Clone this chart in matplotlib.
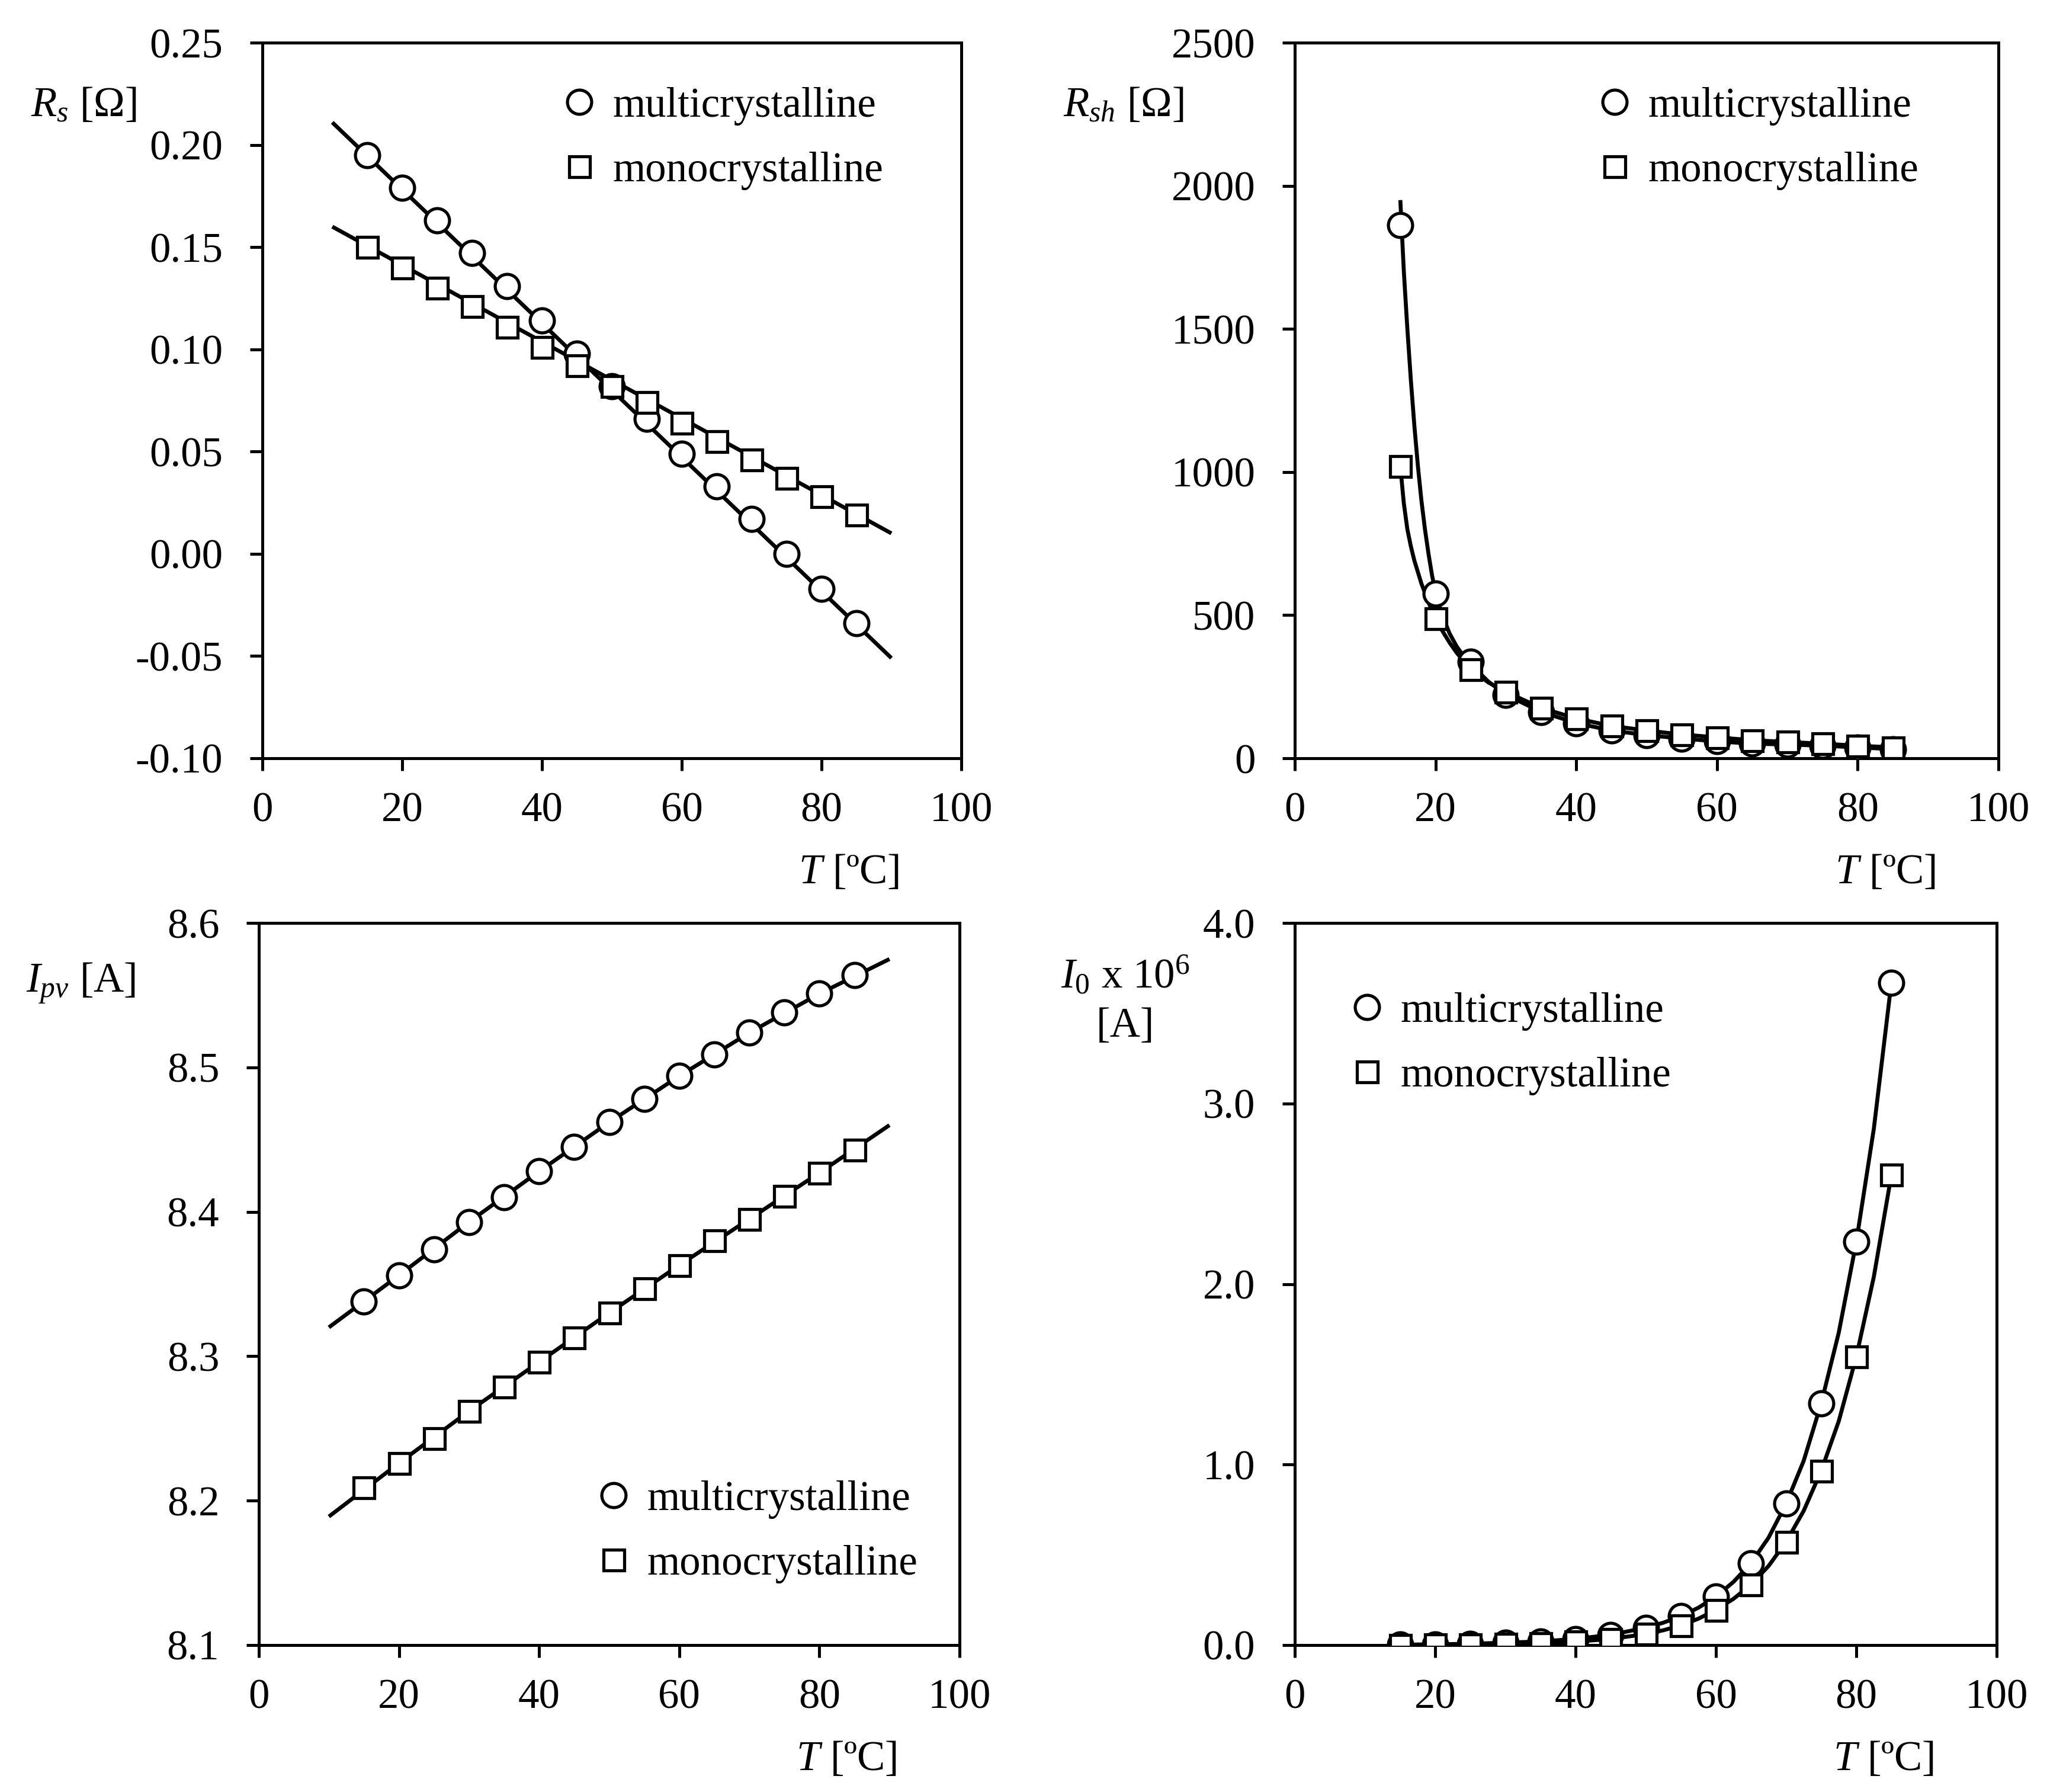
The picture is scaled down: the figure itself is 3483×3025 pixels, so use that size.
import numpy as np
import matplotlib
matplotlib.use("Agg")
import matplotlib.pyplot as plt

plt.rcParams.update({
    "font.family": "Liberation Serif",
    "font.size": 17,
    "mathtext.fontset": "custom",
    "mathtext.rm": "Liberation Serif",
    "mathtext.it": "Liberation Serif:italic",
    "axes.unicode_minus": False,
    "axes.linewidth": 1.2,
})

# measured temperatures
T = [15, 20, 25, 30, 35, 40, 45, 50, 55, 60, 65, 70, 75, 80, 85]

# series resistance Rs [ohm]
rs_multi = [0.195, 0.179, 0.163, 0.147, 0.131, 0.114, 0.098, 0.082, 0.066,
            0.049, 0.033, 0.017, 0.000, -0.017, -0.034]
rs_mono = [0.150, 0.140, 0.130, 0.121, 0.111, 0.101, 0.092, 0.082, 0.074,
           0.064, 0.055, 0.046, 0.037, 0.028, 0.019]
rs_fit_T = [10, 90]
rs_multi_fit = [0.211, -0.051]
rs_mono_fit = [0.160, 0.010]

# shunt resistance Rsh [ohm]
rsh_multi = [1862, 576, 337, 222, 162, 123, 97, 81, 69, 59, 51, 48, 44, 38, 32]
rsh_mono = [1020, 489, 311, 232, 176, 139, 113, 97, 83, 73, 63, 57, 51, 44, 38]
rsh_multi_fit_T = [15, 15.5, 16, 16.5, 17, 17.5, 18, 18.5, 19, 19.5, 20, 21, 22,
                   23, 24, 25, 27.5, 30, 35, 40, 45, 50, 55, 60, 65, 70, 75, 80, 85]
rsh_multi_fit = [1950, 1700, 1500, 1320, 1160, 1020, 900, 800, 715, 640, 580,
                 496, 436, 391, 356, 329, 268, 222, 162, 123, 97, 81, 69, 59,
                 51, 48, 44, 38, 32]
rsh_mono_fit_T = [15, 15.5, 16, 16.5, 17, 18, 19, 20, 21, 22, 23, 24, 25, 27.5,
                  30, 35, 40, 45, 50, 55, 60, 65, 70, 75, 80, 85]
rsh_mono_fit = [1020, 890, 800, 740, 690, 610, 545, 489, 444, 404, 369, 339,
                312, 265, 232, 176, 139, 113, 97, 83, 73, 63, 57, 51, 44, 38]

# photocurrent Ipv [A]
ipv_multi = [8.338, 8.356, 8.374, 8.393, 8.410, 8.428, 8.445, 8.462, 8.478,
             8.494, 8.509, 8.524, 8.538, 8.551, 8.564]
ipv_mono = [8.209, 8.226, 8.243, 8.262, 8.279, 8.296, 8.313, 8.330, 8.347,
            8.363, 8.380, 8.395, 8.411, 8.427, 8.443]
ipv_fit_T = [10, 20, 30, 40, 50, 60, 70, 80, 90]
ipv_multi_fit = [8.320, 8.356, 8.393, 8.428, 8.462, 8.494, 8.524, 8.551, 8.575]
ipv_mono_fit = [8.189, 8.226, 8.262, 8.296, 8.330, 8.363, 8.395, 8.427, 8.460]

# saturation current I0 x 1e6 [A]
i0_multi = [0.002, 0.004, 0.007, 0.012, 0.020, 0.034, 0.057, 0.096, 0.160,
            0.268, 0.454, 0.783, 1.339, 2.233, 3.670]
i0_mono = [0.001, 0.002, 0.0035, 0.006, 0.011, 0.019, 0.034, 0.061, 0.109,
           0.195, 0.335, 0.572, 0.965, 1.597, 2.604]
i0_fit_T = [15, 25, 35, 40, 45, 50, 52.5, 55, 57.5, 60, 62.5, 65, 67.5, 70,
            72.5, 75, 77.5, 80, 82.5, 85]
i0_multi_fit = [0.002, 0.007, 0.020, 0.034, 0.057, 0.096, 0.124, 0.160, 0.207,
                0.268, 0.350, 0.454, 0.595, 0.783, 1.020, 1.339, 1.730, 2.233,
                2.860, 3.670]
i0_mono_fit = [0.001, 0.0035, 0.011, 0.019, 0.034, 0.061, 0.082, 0.109, 0.146,
               0.195, 0.256, 0.335, 0.438, 0.572, 0.743, 0.965, 1.240, 1.597,
               2.040, 2.604]

LABELS = ["multicrystalline", "monocrystalline"]
W, H = 3483, 3025
fig = plt.figure(figsize=(W / 300, H / 300), dpi=300)

# axes rectangles in pixels (left, top, right, bottom)
boxes = {
    "rs": (443, 72, 1623, 1280),
    "rsh": (2186, 72, 3374, 1280),
    "ipv": (437, 1558, 1620, 2777),
    "i0": (2186, 1558, 3371, 2777),
}


def make_ax(key):
    l, t, r, b = boxes[key]
    ax = fig.add_axes([l / W, 1 - b / H, (r - l) / W, (b - t) / H])
    ax.set_xlim(0, 100)
    ax.set_xticks(np.arange(0, 101, 20))
    ax.tick_params(direction="out", length=5, width=1.2, labelsize=17,
                   top=False, right=False)
    ax.tick_params(axis="x", pad=8.5)
    ax.tick_params(axis="y", pad=11)
    hpx = b - t
    ax.text(0.911, -211 / hpx, r"$T$ [ºC]", transform=ax.transAxes,
            ha="right", va="baseline", fontsize=17)
    return ax


def draw(ax, fit_T1, fit1, fit_T2, fit2, y1, y2, leg_xy):
    ax.plot(fit_T1, fit1, color="black", lw=1.6, zorder=2,
            solid_capstyle="butt")
    ax.plot(fit_T2, fit2, color="black", lw=1.6, zorder=2,
            solid_capstyle="butt")
    ax.plot(T, y1, ls="none", marker="o", ms=9.8, mfc="white", mec="black",
            mew=1.25, zorder=3, label=LABELS[0])
    ax.plot(T, y2, ls="none", marker="s", ms=8.4, mfc="white", mec="black",
            mew=1.25, zorder=4, label=LABELS[1])
    ax.legend(loc="center left", bbox_to_anchor=leg_xy, frameon=False,
              borderpad=0, borderaxespad=0, handlelength=1.0,
              handletextpad=0.3, labelspacing=0.62, fontsize=17, numpoints=1)


# Rs
ax = make_ax("rs")
draw(ax, rs_fit_T, rs_multi_fit, rs_fit_T, rs_mono_fit, rs_multi, rs_mono,
     (0.423, 0.866))
ax.set_ylim(-0.10, 0.25)
ax.set_yticks(np.arange(-0.10, 0.251, 0.05))
ax.yaxis.set_major_formatter(matplotlib.ticker.FormatStrFormatter("%.2f"))
ax.text(-0.180, 0.897, r"$R_s$ [Ω]", transform=ax.transAxes,
        ha="right", va="baseline")

# Rsh
ax = make_ax("rsh")
draw(ax, rsh_multi_fit_T, rsh_multi_fit, rsh_mono_fit_T, rsh_mono_fit,
     rsh_multi, rsh_mono, (0.425, 0.866))
ax.set_ylim(0, 2500)
ax.set_yticks(np.arange(0, 2501, 500))
ax.text(-0.158, 0.897, r"$R_{sh}$ [Ω]", transform=ax.transAxes,
        ha="right", va="baseline")

# Ipv
ax = make_ax("ipv")
draw(ax, ipv_fit_T, ipv_multi_fit, ipv_fit_T, ipv_mono_fit, ipv_multi,
     ipv_mono, (0.476, 0.157))
ax.set_ylim(8.1, 8.6)
ax.set_yticks(np.arange(8.1, 8.601, 0.1))
ax.yaxis.set_major_formatter(matplotlib.ticker.FormatStrFormatter("%.1f"))
ax.text(-0.176, 0.904, r"$I_{pv}$ [A]", transform=ax.transAxes,
        ha="right", va="baseline")

# I0
ax = make_ax("i0")
draw(ax, i0_fit_T, i0_multi_fit, i0_fit_T, i0_mono_fit, i0_multi, i0_mono,
     (0.073, 0.8325))
ax.set_ylim(0, 4.0)
ax.set_yticks(np.arange(0, 4.01, 1.0))
ax.yaxis.set_major_formatter(matplotlib.ticker.FormatStrFormatter("%.1f"))
ax.text(-0.241, 0.910, r"$I_0$ x 10$^6$", transform=ax.transAxes,
        ha="center", va="baseline")
ax.text(-0.241, 0.8425, "[A]", transform=ax.transAxes,
        ha="center", va="baseline")

fig.savefig("out.png", dpi=300)
